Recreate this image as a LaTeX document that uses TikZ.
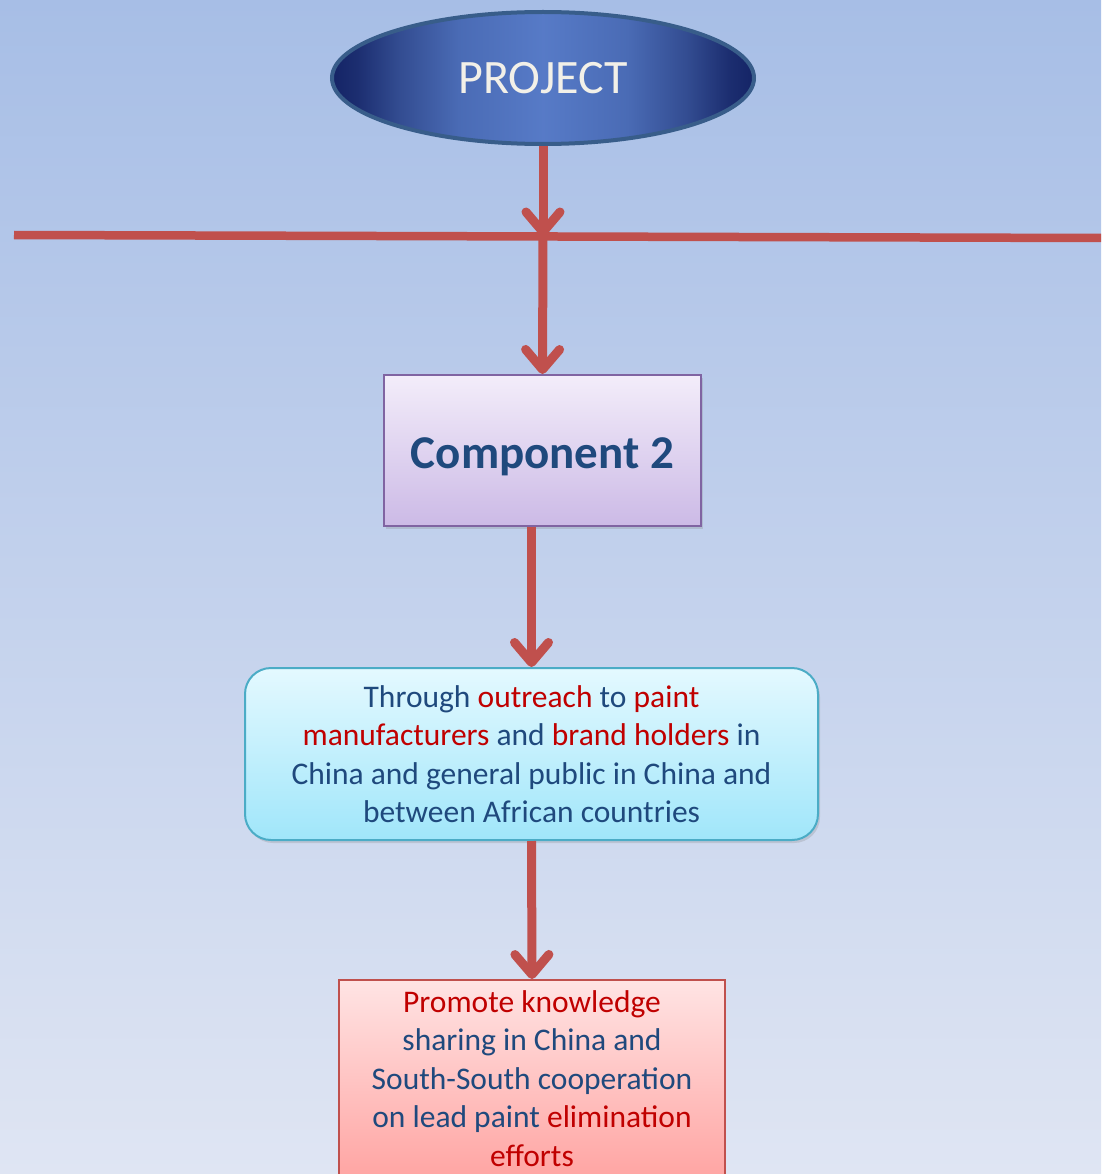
\documentclass[tikz,border=0pt]{standalone}
\usepackage{fontspec}
\setmainfont{Carlito}
\usetikzlibrary{arrows.meta,shapes.geometric,shadows}
\definecolor{bgtop}{RGB}{167,190,230}
\definecolor{bgbot}{RGB}{223,229,243}
\definecolor{arr}{RGB}{192,80,77}
\definecolor{tblue}{RGB}{31,73,125}
\definecolor{tred}{RGB}{192,0,0}
\definecolor{ellbd}{RGB}{56,93,138}
\definecolor{comptop}{RGB}{243,237,250}
\definecolor{compbot}{RGB}{204,186,230}
\definecolor{compbd}{RGB}{128,100,162}
\definecolor{outtop}{RGB}{228,249,255}
\definecolor{outbot}{RGB}{160,230,250}
\definecolor{outbd}{RGB}{75,172,198}
\definecolor{promtop}{RGB}{255,228,228}
\definecolor{prombot}{RGB}{255,165,163}
\definecolor{prombd}{RGB}{192,80,77}
\pgfdeclarehorizontalshading{ellshade}{100bp}{
  rgb(0bp)=(0.08,0.14,0.40);
  rgb(25bp)=(0.08,0.14,0.40);
  rgb(28bp)=(0.11,0.18,0.44);
  rgb(33bp)=(0.20,0.30,0.57);
  rgb(40bp)=(0.29,0.42,0.71);
  rgb(50bp)=(0.34,0.48,0.78);
  rgb(60bp)=(0.29,0.42,0.71);
  rgb(67bp)=(0.20,0.30,0.57);
  rgb(72bp)=(0.11,0.18,0.44);
  rgb(75bp)=(0.08,0.14,0.40);
  rgb(100bp)=(0.08,0.14,0.40)}
\tikzset{
  projnode/.style={ellipse, draw=ellbd, line width=4pt, minimum width=422pt, minimum height=132pt,
    shading=ellshade, shading angle=0,
    text={rgb,255:red,242;green,240;blue,232}, font=\fontsize{48}{56}\selectfont},
  compnode/.style={rectangle, draw=compbd, line width=2pt, minimum width=317pt, minimum height=151pt,
    top color=comptop, bottom color=compbot, text=tblue, font=\fontsize{47}{56}\selectfont\bfseries,
    drop shadow={shadow xshift=2pt, shadow yshift=-3pt, opacity=0.25}},
  outnode/.style={rectangle, rounded corners=26pt, draw=outbd, line width=2pt, minimum width=573pt, minimum height=172pt,
    top color=outtop, bottom color=outbot, text=tblue, align=center, font=\fontsize{31.5}{38.5}\selectfont,
    drop shadow={shadow xshift=2pt, shadow yshift=-3pt, opacity=0.25}},
  promnode/.style={rectangle, draw=prombd, line width=1.5pt, minimum width=386pt,
    top color=promtop, bottom color=prombot, text=tblue, align=center, font=\fontsize{31.5}{38.5}\selectfont,
    inner ysep=10.5pt},
  redline/.style={draw=arr, line width=8.5pt},
  redarrow/.style={draw=arr, line width=9pt, -{Straight Barb[length=20pt,width=34pt,round]}},
}
\begin{document}
\begin{tikzpicture}[x=1pt,y=-1pt]
\useasboundingbox (0,0) rectangle (1101,1174);
\shade[top color=bgtop,bottom color=bgbot] (0,0) rectangle (1101,1174);
\node[projnode] (proj) at (543,78) {PROJECT};
\coordinate (hl) at (14,235);
\coordinate (hr) at (1101,238);
\coordinate (hm) at (543,236.5);
\node[compnode] (comp) at (542.5,450.5) {\raisebox{-6pt}[\height][\depth]{Component 2}};
\node[outnode] (out) at (531.5,754) {Through \textcolor{tred}{outreach} to \textcolor{tred}{paint}\\
\textcolor{tred}{manufacturers} and \textcolor{tred}{brand holders} in\\
China and general public in China and\\
between African countries};
\begin{scope}
\clip (0,0) rectangle (1101,1174);
\node[promnode, anchor=north] (prom) at (532,979) {\textcolor{tred}{Promote knowledge}\\
sharing in China and\\
South-South cooperation\\
on lead paint \textcolor{tred}{elimination}\\
\textcolor{tred}{efforts}};
\end{scope}
\draw[redline] (hl) -- (hr);
\draw[redarrow] (proj.south) -- (hm);
\draw[redarrow] (hm) -- (comp.north);
\draw[redarrow] (comp.south -| out.north) -- (out.north);
\draw[redarrow] (out.south) -- (prom.north);
\end{tikzpicture}
\end{document}
